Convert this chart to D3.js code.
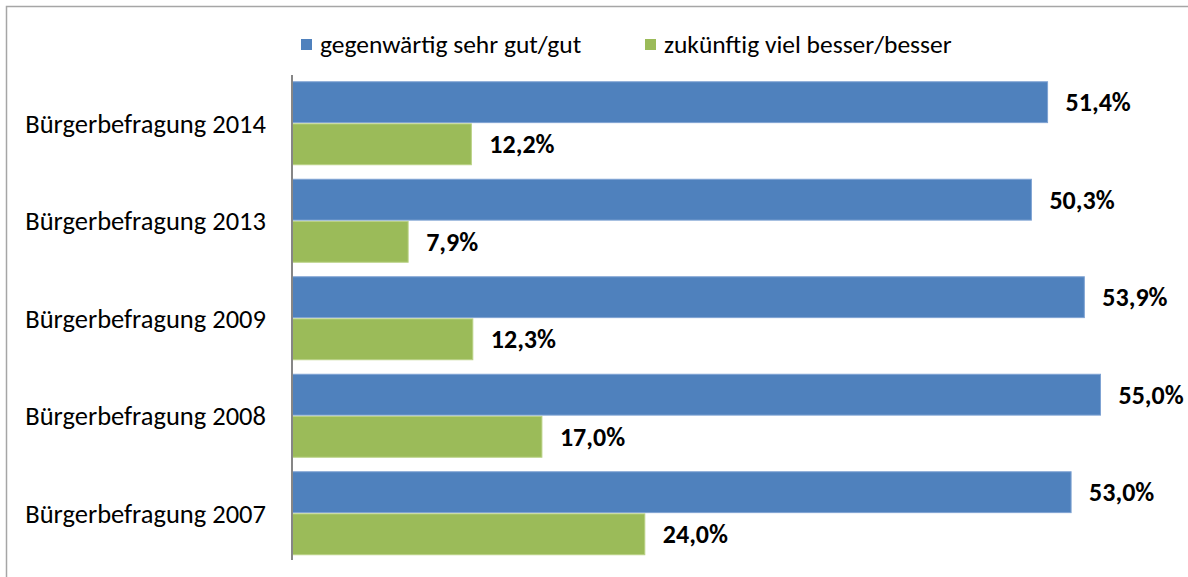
<!DOCTYPE html>
<html>
<head>
<meta charset="utf-8">
<script src="https://cdn.jsdelivr.net/npm/d3@7"></script>
<style>
  html, body { margin: 0; padding: 0; background: #fff; }
  svg { display: block; }
  text { font-family: Carlito, Lato, "Open Sans", sans-serif; fill: #000; }
</style>
</head>
<body>
<svg id="chart" width="1188" height="577"></svg>
<script>
const categories = ["Bürgerbefragung 2014", "Bürgerbefragung 2013", "Bürgerbefragung 2009", "Bürgerbefragung 2008", "Bürgerbefragung 2007"];
const seriesNames = ["gegenwärtig sehr gut/gut", "zukünftig viel besser/besser"];
const seriesKeys = ["current", "future"];
const currentValues = [51.4, 50.3, 53.9, 55.0, 53.0];
const futureValues = [12.2, 7.9, 12.3, 17.0, 24.0];
const colors = ["#4F81BD", "#9BBB59"];
const strokeColors = ["#7fa3d3", "#b9d184"];

const rows = categories.map((c, i) => ({ category: c, current: currentValues[i], future: futureValues[i] }));

const svg = d3.select("#chart");
const labelFont = 26.5;
const legendFont = 25.5;
const valueFont = 26;

// outer border
svg.append("rect")
  .attr("x", 6.5).attr("y", 6.5)
  .attr("width", 1200).attr("height", 600)
  .attr("fill", "none")
  .attr("stroke", "#a6a6a6")
  .attr("stroke-width", 1.5);

const x = d3.scaleLinear().domain([0, 60]).range([292, 1174]);
const y = d3.scaleBand().domain(categories).range([74.5, 562]).paddingInner(0.149).paddingOuter(0.0745);
const ySub = d3.scaleBand().domain(seriesKeys).range([0, y.bandwidth()]).paddingInner(0.03);

const fmt = v => d3.format(".1f")(v).replace(".", ",") + "%";

// bars
const groups = svg.append("g").selectAll("g")
  .data(rows).join("g")
  .attr("transform", d => `translate(0,${y(d.category)})`);

seriesKeys.forEach((k, si) => {
  groups.append("rect")
    .attr("x", x(0))
    .attr("y", ySub(k))
    .attr("width", d => x(d[k]) - x(0))
    .attr("height", ySub.bandwidth())
    .attr("fill", colors[si])
    .attr("stroke", strokeColors[si])
    .attr("stroke-width", 1);

  groups.append("text")
    .attr("x", d => x(d[k]) + 18)
    .attr("y", ySub(k) + ySub.bandwidth() / 2)
    .attr("dy", "0.35em")
    .attr("font-size", valueFont)
    .attr("font-weight", "bold")
    .text(d => fmt(d[k]));
});

// category axis
const axis = d3.axisLeft(y).tickSize(0).tickPadding(26);
const gAxis = svg.append("g").attr("transform", `translate(${x(0)},0)`).call(axis);
gAxis.select(".domain").attr("stroke", "#868686").attr("stroke-width", 2)
  .attr("d", `M0,75V560`);
gAxis.selectAll(".tick text")
  .attr("font-size", labelFont)
  .attr("font-family", null)
  .attr("fill", "#000")
  .attr("dy", "0.35em");

// legend
const legendX = [301, 645];
const legend = svg.append("g").selectAll("g")
  .data(seriesNames).join("g")
  .attr("transform", (d, i) => `translate(${legendX[i]},39)`);
legend.append("rect")
  .attr("width", 11).attr("height", 11)
  .attr("fill", (d, i) => colors[i]);
legend.append("text")
  .attr("x", 19).attr("y", 5.5).attr("dy", "0.35em")
  .attr("font-size", legendFont)
  .text(d => d);
</script>
</body>
</html>
